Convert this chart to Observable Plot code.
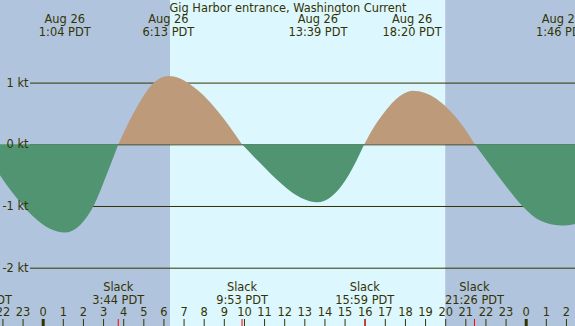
<!DOCTYPE html>
<html>
<head>
<meta charset="utf-8">
<script src="https://cdn.jsdelivr.net/npm/d3@7"></script>
<script src="https://cdn.jsdelivr.net/npm/@observablehq/plot@0.6"></script>
<style>
  html, body { margin: 0; padding: 0; background: #fff; overflow: hidden; }
  #chart svg { display: block; }
</style>
</head>
<body>
<div id="chart"></div>
<script>
// ---- data (hours relative to Aug 26 00:00 PDT; speeds in knots) ----
const title = "Gig Harbor entrance, Washington Current";
const hours  = [-3.02, -2.12, -1.29, -0.47, 0.36, 1.09, 1.85, 2.57, 3.18, 3.76,
                4.5, 5.0, 5.53, 6.24, 6.8, 7.42, 8.0, 8.66, 9.3, 9.90,
                10.73, 11.56, 12.39, 13.0, 13.63, 14.0, 14.54, 15.2, 15.98,
                16.5, 16.96, 17.46, 18.0, 18.37, 19.0, 19.5, 20.0, 20.5, 21.0, 21.47,
                22.42, 23.0, 23.83, 24.74, 25.74, 26.45, 27];
const speeds = [0, -0.50, -0.87, -1.17, -1.37, -1.43, -1.31, -0.97, -0.49, 0,
                0.50, 0.78, 1.0, 1.105, 1.07, 0.95, 0.79, 0.55, 0.28, 0,
                -0.28, -0.55, -0.78, -0.89, -0.94, -0.915, -0.79, -0.50, 0,
                0.30, 0.51, 0.70, 0.83, 0.867, 0.83, 0.75, 0.62, 0.45, 0.24, 0,
                -0.42, -0.67, -1.0, -1.24, -1.315, -1.29, -1.24];

const sunTimes = [6.333, 20.0];           // sunrise 6:20, sunset 20:00
const extremaHours = [1.07, 6.22, 13.65, 18.33, 25.77];
const extremaDates = ["Aug 26", "Aug 26", "Aug 26", "Aug 26", "Aug 27"];
const extremaTimes = ["1:04 PDT", "6:13 PDT", "13:39 PDT", "18:20 PDT", "1:46 PDT"];
const slackHours = [-3.02, 3.73, 9.88, 15.98, 21.43];
const slackTimes = ["20:59 PDT", "3:44 PDT", "9:53 PDT", "15:59 PDT", "21:26 PDT"];
const speedTicks = [1, 0, -1, -2];
const hourTicks = d3.range(-2, 27);

// ---- styles ----
const W = 575, H = 326;
const nightColor = "#b0c4de", dayColor = "#ddf7ff";
const floodColor = "#bd9b7a", ebbColor = "#519471";
const ink = "#333300";
const font = "DejaVu Sans";
const fs = 11.4;

// ---- derived tables ----
const pts = hours.map((h, i) => ({h, v: speeds[i]}));
const segs = [];
let cur = [];
for (const p of pts) {
  cur.push(p);
  if (p.v === 0 && cur.length > 1) { segs.push(cur); cur = [p]; }
}
if (cur.length > 1) segs.push(cur);
const rows = segs.flatMap((s, i) => s.map(p => ({...p, seg: i, sign: s.some(q => q.v > 0) ? "flood" : "ebb"})));

const xDomain = [-2.1217, 26.4497];
const bands = [
  {x1: xDomain[0] - 1, x2: sunTimes[0], fill: nightColor},
  {x1: sunTimes[0], x2: sunTimes[1], fill: dayColor},
  {x1: sunTimes[1], x2: xDomain[1] + 1, fill: nightColor}
];
const extrema = extremaHours.map((h, i) => ({h, date: extremaDates[i], time: extremaTimes[i]}));
const slacks = slackHours.map((h, i) => ({h, time: slackTimes[i]}));
const txt = {fill: ink, fontSize: fs, fontFamily: font, lineAnchor: "middle"};

const chart = Plot.plot({
  width: W, height: H,
  marginTop: 0, marginRight: 0, marginBottom: 0, marginLeft: 0,
  style: {fontFamily: font, background: "transparent", overflow: "hidden"},
  x: {domain: xDomain, range: [0, W], axis: null},
  y: {domain: [-2.9449, 2.3387], range: [H, 0], axis: null},
  color: {domain: ["flood", "ebb"], range: [floodColor, ebbColor]},
  marks: [
    Plot.rect(bands, {x1: "x1", x2: "x2", fill: d => d.fill, clip: true}),
    Plot.ruleY(speedTicks, {y: d => d, stroke: ink, strokeWidth: 1, insetLeft: 30}),
    Plot.areaY(rows, {x: "h", y: "v", z: "seg", fill: "sign", curve: "monotone-x", clip: true}),
    Plot.text(speedTicks, {y: d => d, text: d => `${d} kt`, frameAnchor: "left", textAnchor: "end", dx: 28, ...txt}),
    Plot.text([title], {text: d => d, frameAnchor: "top", dy: 7.5, ...txt}),
    Plot.text(extrema, {x: "h", text: "date", frameAnchor: "top", dy: 19.3, ...txt}),
    Plot.text(extrema, {x: "h", text: "time", frameAnchor: "top", dy: 31.7, ...txt}),
    Plot.text(slacks, {x: "h", text: () => "Slack", frameAnchor: "bottom", dy: -38.7, ...txt}),
    Plot.text(slacks, {x: "h", text: "time", frameAnchor: "bottom", dy: -26, ...txt}),
    Plot.text(hourTicks, {x: d => d, text: d => String(((d % 24) + 24) % 24), frameAnchor: "bottom", dy: -14.3, ...txt}),
    Plot.ruleX(hourTicks, {x: d => d, stroke: ink, strokeWidth: d => (((d % 24) + 24) % 24 === 0 ? 3 : 1), insetTop: 319}),
    Plot.ruleX(slackHours, {x: d => d, stroke: "red", strokeWidth: 1, insetTop: 319})
  ]
});
document.getElementById("chart").append(chart);
</script>
</body>
</html>
